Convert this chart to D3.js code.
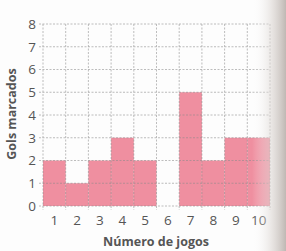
<!DOCTYPE html>
<html><head><meta charset="utf-8">
<script src="https://cdn.jsdelivr.net/npm/d3@7"></script>
<style>body{margin:0;background:#fff}svg{display:block}</style>
</head><body>
<svg id="c" width="286" height="251"></svg>
<script>
const games = ["1","2","3","4","5","6","7","8","9","10"];
const goals = [2,1,2,3,2,0,5,2,3,3];
const yTicks = [0,1,2,3,4,5,6,7,8];
const xTitle = "Número de jogos";
const yTitle = "Gols marcados";

const svg = d3.select("#c");
const m = {l:43, r:270, t:24, b:206};
const x = d3.scaleBand().domain(games).range([m.l, m.r]).padding(0);
const y = d3.scaleLinear().domain([0,8]).range([m.b, m.t]);
const font = "'Open Sans', Lato, sans-serif";

svg.append("rect").attr("width",286).attr("height",251).attr("fill","#fdfdfd");

svg.selectAll("rect.bar").data(goals).join("rect").attr("class","bar")
  .attr("x",(d,i)=>x(games[i])).attr("width",x.bandwidth())
  .attr("y",d=>y(d)).attr("height",d=>y(0)-y(d))
  .attr("fill","#ef8fa0");

const grid = svg.append("g").attr("stroke","#8a8a8a").attr("stroke-dasharray","2,1.5").attr("stroke-width",0.8).attr("opacity",0.7);
grid.selectAll("line.h").data(yTicks).join("line").attr("class","h")
  .attr("x1",m.l-4).attr("x2",m.r).attr("y1",d=>y(d)).attr("y2",d=>y(d));
const xs = games.map(g=>x(g)).concat([m.r]);
grid.selectAll("line.v").data(xs).join("line").attr("class","v")
  .attr("x1",d=>d).attr("x2",d=>d).attr("y1",m.t).attr("y2",m.b+4);

const yAxis = svg.append("g").attr("transform",`translate(${m.l},0)`)
  .call(d3.axisLeft(y).tickValues(yTicks).tickSize(0).tickPadding(7));
yAxis.select(".domain").remove();
yAxis.selectAll("text").attr("font-family",font).attr("font-size",13.5).attr("fill","#555");

const xAxis = svg.append("g").attr("transform",`translate(0,${m.b})`)
  .call(d3.axisBottom(x).tickSize(0).tickPadding(9));
xAxis.select(".domain").remove();
xAxis.selectAll("text").attr("font-family",font).attr("font-size",13.5).attr("fill","#555");

svg.append("text").attr("x",156).attr("y",246).attr("text-anchor","middle")
  .attr("font-family",font).attr("font-weight","bold").attr("font-size",12.5).attr("fill","#555").text(xTitle);
svg.append("text").attr("transform","translate(16,114) rotate(-90)").attr("text-anchor","middle")
  .attr("font-family",font).attr("font-weight","bold").attr("font-size",12.5).attr("fill","#555").text(yTitle);

const defs = svg.append("defs");
const lg = defs.append("linearGradient").attr("id","shade").attr("x1","0").attr("x2","1");
lg.append("stop").attr("offset","0").attr("stop-color","#fff").attr("stop-opacity",0);
lg.append("stop").attr("offset","0.6").attr("stop-color","#d9d3cf").attr("stop-opacity",0.6);
lg.append("stop").attr("offset","1").attr("stop-color","#b8b0ab").attr("stop-opacity",0.9);
svg.append("rect").attr("x",252).attr("y",0).attr("width",34).attr("height",251).attr("fill","url(#shade)");
</script>
</body></html>
